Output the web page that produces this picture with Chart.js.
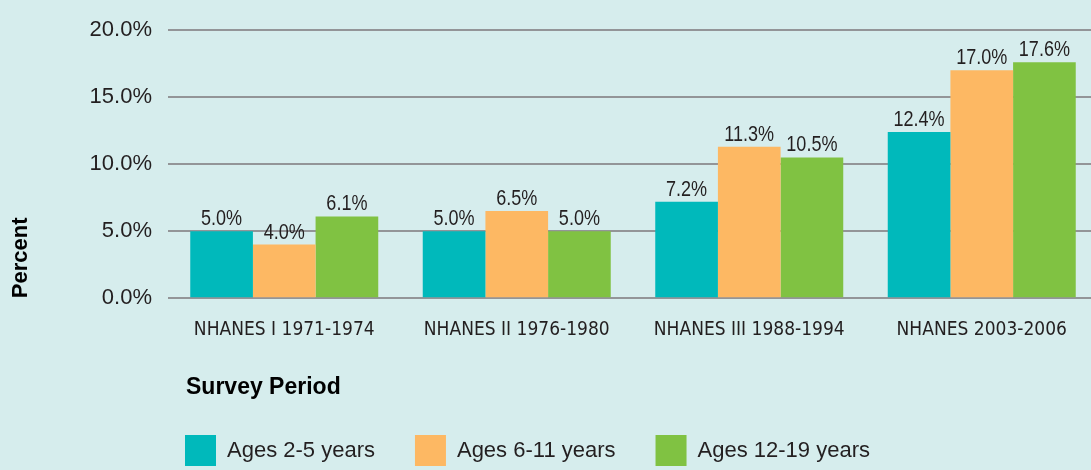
<!DOCTYPE html>
<html>
<head>
<meta charset="utf-8">
<script src="https://cdn.jsdelivr.net/npm/chart.js@4/dist/chart.umd.min.js"></script>
<style>
  html, body { margin: 0; padding: 0; background: #d6eded; overflow: hidden; }
  #wrap { width: 1091px; height: 470px; overflow: hidden; position: relative; }
  canvas { display: block; }
</style>
</head>
<body>
<div id="wrap"><canvas id="c" width="1098" height="470"></canvas></div>
<script>
const categories = ['NHANES I 1971-1974', 'NHANES II 1976-1980', 'NHANES III 1988-1994', 'NHANES 2003-2006'];
const seriesNames = ['Ages 2-5 years', 'Ages 6-11 years', 'Ages 12-19 years'];
const ages2to5 = [5.0, 5.0, 7.2, 12.4];
const ages6to11 = [4.0, 6.5, 11.3, 17.0];
const ages12to19 = [6.1, 5.0, 10.5, 17.6];
const seriesColors = ['#00b9bb', '#fdb863', '#80c242'];
const yTicks = [0, 5, 10, 15, 20];
const yAxisTitle = 'Percent';
const xAxisTitle = 'Survey Period';

const NARROW = "'Liberation Sans Narrow', 'Arial Narrow', 'DejaVu Sans Condensed', sans-serif";
const REG = "'Liberation Sans', Arial, sans-serif";
const TXT = '#231f20';

const valueLabels = {
  id: 'valueLabels',
  afterDatasetsDraw(chart) {
    const ctx = chart.ctx;
    chart.data.datasets.forEach((ds, i) => {
      const meta = chart.getDatasetMeta(i);
      meta.data.forEach((bar, j) => {
        ctx.save();
        ctx.font = "22px " + REG;
        ctx.fillStyle = TXT;
        ctx.textAlign = 'center';
        ctx.textBaseline = 'alphabetic';
        ctx.translate(bar.x, bar.y - 6);
        ctx.scale(0.82, 1);
        ctx.fillText(ds.data[j].toFixed(1) + '%', 0, 0);
        ctx.restore();
      });
    });
  }
};

const xTitle = {
  id: 'xTitle',
  afterDraw(chart) {
    const ctx = chart.ctx;
    const xs = chart.scales.x;
    ctx.save();
    ctx.font = "bold 23px " + REG;
    ctx.fillStyle = '#000';
    ctx.textAlign = 'left';
    ctx.textBaseline = 'alphabetic';
    ctx.fillText(xAxisTitle, xs.left + 18, 394);
    ctx.restore();
  }
};

const legendPlace = {
  id: 'legendPlace',
  afterLayout(chart) {
    const lg = chart.legend;
    if (!lg) return;
    const dx = 145;
    lg.left += dx; lg.right += dx;
    lg.top = 395; lg.bottom = 395 + 111;
  }
};

new Chart(document.getElementById('c'), {
  type: 'bar',
  data: {
    labels: categories,
    datasets: [
      { label: seriesNames[0], data: ages2to5, backgroundColor: seriesColors[0], borderWidth: 0 },
      { label: seriesNames[1], data: ages6to11, backgroundColor: seriesColors[1], borderWidth: 0 },
      { label: seriesNames[2], data: ages12to19, backgroundColor: seriesColors[2], borderWidth: 0 }
    ]
  },
  plugins: [valueLabels, xTitle, legendPlace],
  options: {
    responsive: false,
    animation: false,
    devicePixelRatio: 1,
    layout: { padding: { top: 30, right: 0, bottom: 28, left: 0 } },
    datasets: { bar: { categoryPercentage: 0.8086, barPercentage: 1.0 } },
    plugins: {
      legend: {
        position: 'bottom',
        align: 'start',
        labels: {
          boxWidth: 31, boxHeight: 31, padding: 40,
          color: TXT,
          font: { family: REG, size: 22 }
        }
      },
      tooltip: { enabled: false }
    },
    scales: {
      x: {
        grid: { display: false, drawTicks: false },
        border: { display: false },
        ticks: { color: TXT, padding: 20, font: { family: NARROW, size: 19 }, maxRotation: 0 },
        title: { display: false }
      },
      y: {
        min: 0, max: 20,
        afterFit(scale) { scale.width = 168; },
        afterBuildTicks(scale) { scale.ticks = yTicks.map(v => ({ value: v })); },
        grid: { color: '#939598', lineWidth: 2, drawTicks: false },
        border: { display: false },
        ticks: {
          color: TXT, padding: 16,
          font: { family: REG, size: 22 },
          callback: v => Number(v).toFixed(1) + '%'
        },
        title: {
          display: true, text: yAxisTitle, align: 'start', color: '#000',
          font: { family: REG, size: 22, weight: 'bold' },
          padding: { top: 8, bottom: 0 }
        }
      }
    }
  }
});
</script>
</body>
</html>
